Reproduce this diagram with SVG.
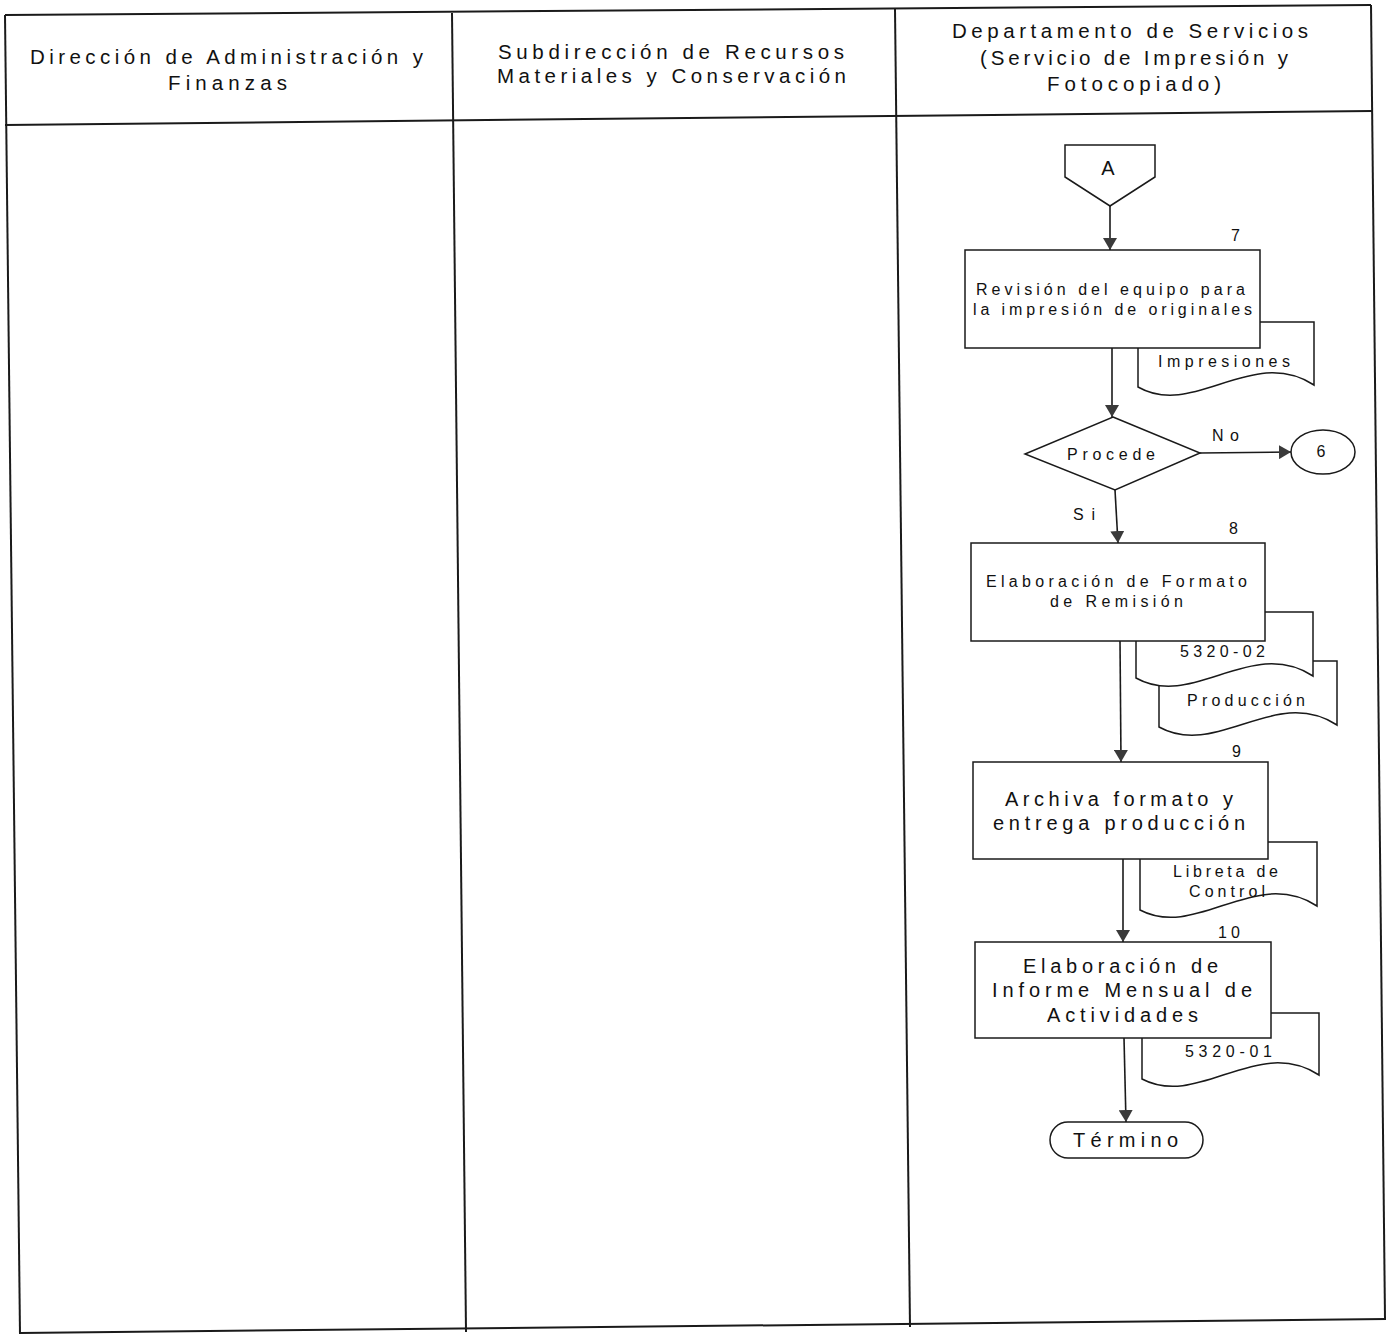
<svg xmlns="http://www.w3.org/2000/svg" width="1387" height="1334" viewBox="0 0 1387 1334">
<style>
.tbl{stroke:#1a1a1a;stroke-width:2;fill:none}
.shape{stroke:#1a1a1a;stroke-width:1.5;fill:#fff}
.conn{stroke:#1a1a1a;stroke-width:1.6;fill:none}
text{font-family:"Liberation Sans",Arial,sans-serif;fill:#111}
.hd{font-size:20.5px}
.sm{font-size:16px}
.md{font-size:20px}
</style>
<defs>
<marker id="arr" viewBox="0 0 12 14" refX="12" refY="7" markerWidth="12" markerHeight="14" markerUnits="userSpaceOnUse" orient="auto">
<path d="M0,0 L12,7 L0,14 z" fill="#3a3a3a"/>
</marker>
</defs>
<rect width="1387" height="1334" fill="#fff"/>
<g id="table">
<line class="tbl" x1="5" y1="15" x2="1371" y2="5"/>
<line class="tbl" x1="5" y1="125" x2="1372" y2="111"/>
<line class="tbl" x1="20" y1="1333" x2="1386" y2="1319"/>
<line class="tbl" x1="5" y1="15" x2="20" y2="1334"/>
<line class="tbl" x1="1371" y1="5" x2="1385" y2="1319"/>
<line class="tbl" x1="452" y1="13" x2="466" y2="1332"/>
<line class="tbl" x1="895" y1="9" x2="910" y2="1327"/>
</g>
<g id="headers">
<text class="hd" x="30" y="64" textLength="393" lengthAdjust="spacing">Dirección de Administración y</text>
<text class="hd" x="168" y="90" textLength="119" lengthAdjust="spacing">Finanzas</text>
<text class="hd" x="498" y="59" textLength="346" lengthAdjust="spacing">Subdirección de Recursos</text>
<text class="hd" x="497" y="83" textLength="349" lengthAdjust="spacing">Materiales y Conservación</text>
<text class="hd" x="952" y="38" textLength="356" lengthAdjust="spacing">Departamento de Servicios</text>
<text class="hd" x="980" y="65" textLength="308" lengthAdjust="spacing">(Servicio de Impresión y</text>
<text class="hd" x="1047" y="91" textLength="174" lengthAdjust="spacing">Fotocopiado)</text>
</g>
<g id="connectors">
<line class="conn" x1="1110" y1="205" x2="1110" y2="250" marker-end="url(#arr)"/>
<line class="conn" x1="1112" y1="348" x2="1112" y2="417" marker-end="url(#arr)"/>
<line class="conn" x1="1200" y1="453" x2="1291" y2="452" marker-end="url(#arr)"/>
<line class="conn" x1="1115" y1="490" x2="1118" y2="543" marker-end="url(#arr)"/>
<line class="conn" x1="1120" y1="641" x2="1121" y2="762" marker-end="url(#arr)"/>
<line class="conn" x1="1123" y1="859" x2="1123" y2="942" marker-end="url(#arr)"/>
<line class="conn" x1="1124" y1="1038" x2="1126" y2="1122" marker-end="url(#arr)"/>
<text class="sm" x="1212" y="441" textLength="27" lengthAdjust="spacing">No</text>
<text class="sm" x="1073" y="520" textLength="22" lengthAdjust="spacing">Si</text>
</g>
<g id="nodeA">
<path class="shape" d="M1065,145 H1155 V177 L1110,206 L1065,177 Z"/>
<text class="md" x="1108" y="175" text-anchor="middle">A</text>
</g>
<g id="doc-impresiones">
<path class="shape" d="M1138,322 H1314 V385 C1252,345 1194,419 1138,387 Z"/>
<text class="sm" x="1158" y="367" textLength="132" lengthAdjust="spacing">Impresiones</text>
</g>
<g id="step7">
<rect class="shape" x="965" y="250" width="295" height="98"/>
<text class="sm" x="1231" y="241">7</text>
<text class="sm" x="976" y="295" textLength="269" lengthAdjust="spacing">Revisión del equipo para</text>
<text class="sm" x="973" y="315" textLength="279" lengthAdjust="spacing">la impresión de originales</text>
</g>
<g id="decision">
<path class="shape" d="M1113,417 L1200,453 L1115,490 L1025,454 Z"/>
<text class="sm" x="1067" y="460" textLength="88" lengthAdjust="spacing">Procede</text>
</g>
<g id="conn6">
<ellipse class="shape" cx="1323" cy="452" rx="32" ry="22"/>
<text class="sm" x="1321" y="457" text-anchor="middle">6</text>
</g>
<g id="doc-produccion">
<path class="shape" d="M1159,661 H1337 V725 C1275,685 1217,759 1159,727 Z"/>
<text class="sm" x="1187" y="706" textLength="118" lengthAdjust="spacing">Producción</text>
</g>
<g id="doc-5320-02">
<path class="shape" d="M1136,612 H1313 V676 C1251,636 1193,710 1136,678 Z"/>
<text class="sm" x="1180" y="657" textLength="85" lengthAdjust="spacing">5320-02</text>
</g>
<g id="step8">
<rect class="shape" x="971" y="543" width="294" height="98"/>
<text class="sm" x="1229" y="534">8</text>
<text class="sm" x="986" y="587" textLength="261" lengthAdjust="spacing">Elaboración de Formato</text>
<text class="sm" x="1050" y="607" textLength="133" lengthAdjust="spacing">de Remisión</text>
</g>
<g id="doc-libreta">
<path class="shape" d="M1140,842 H1317 V906 C1255,866 1197,940 1140,910 Z"/>
<text class="sm" x="1173" y="877" textLength="105" lengthAdjust="spacing">Libreta de</text>
<text class="sm" x="1189" y="897" textLength="76" lengthAdjust="spacing">Control</text>
</g>
<g id="step9">
<rect class="shape" x="973" y="762" width="295" height="97"/>
<text class="sm" x="1232" y="757">9</text>
<text class="md" x="1005" y="806" textLength="228" lengthAdjust="spacing">Archiva formato y</text>
<text class="md" x="993" y="830" textLength="252" lengthAdjust="spacing">entrega producción</text>
</g>
<g id="doc-5320-01">
<path class="shape" d="M1142,1013 H1319 V1075 C1257,1035 1199,1109 1142,1079 Z"/>
<text class="sm" x="1185" y="1057" textLength="87" lengthAdjust="spacing">5320-01</text>
</g>
<g id="step10">
<rect class="shape" x="975" y="942" width="296" height="96"/>
<text class="sm" x="1218" y="938" textLength="22" lengthAdjust="spacing">10</text>
<text class="md" x="1023" y="973" textLength="195" lengthAdjust="spacing">Elaboración de</text>
<text class="md" x="992" y="997" textLength="260" lengthAdjust="spacing">Informe Mensual de</text>
<text class="md" x="1047" y="1022" textLength="151" lengthAdjust="spacing">Actividades</text>
</g>
<g id="end">
<rect class="shape" x="1050" y="1122" width="153" height="36" rx="18" ry="18"/>
<text class="md" x="1073" y="1147" textLength="105" lengthAdjust="spacing">Término</text>
</g>
</svg>
